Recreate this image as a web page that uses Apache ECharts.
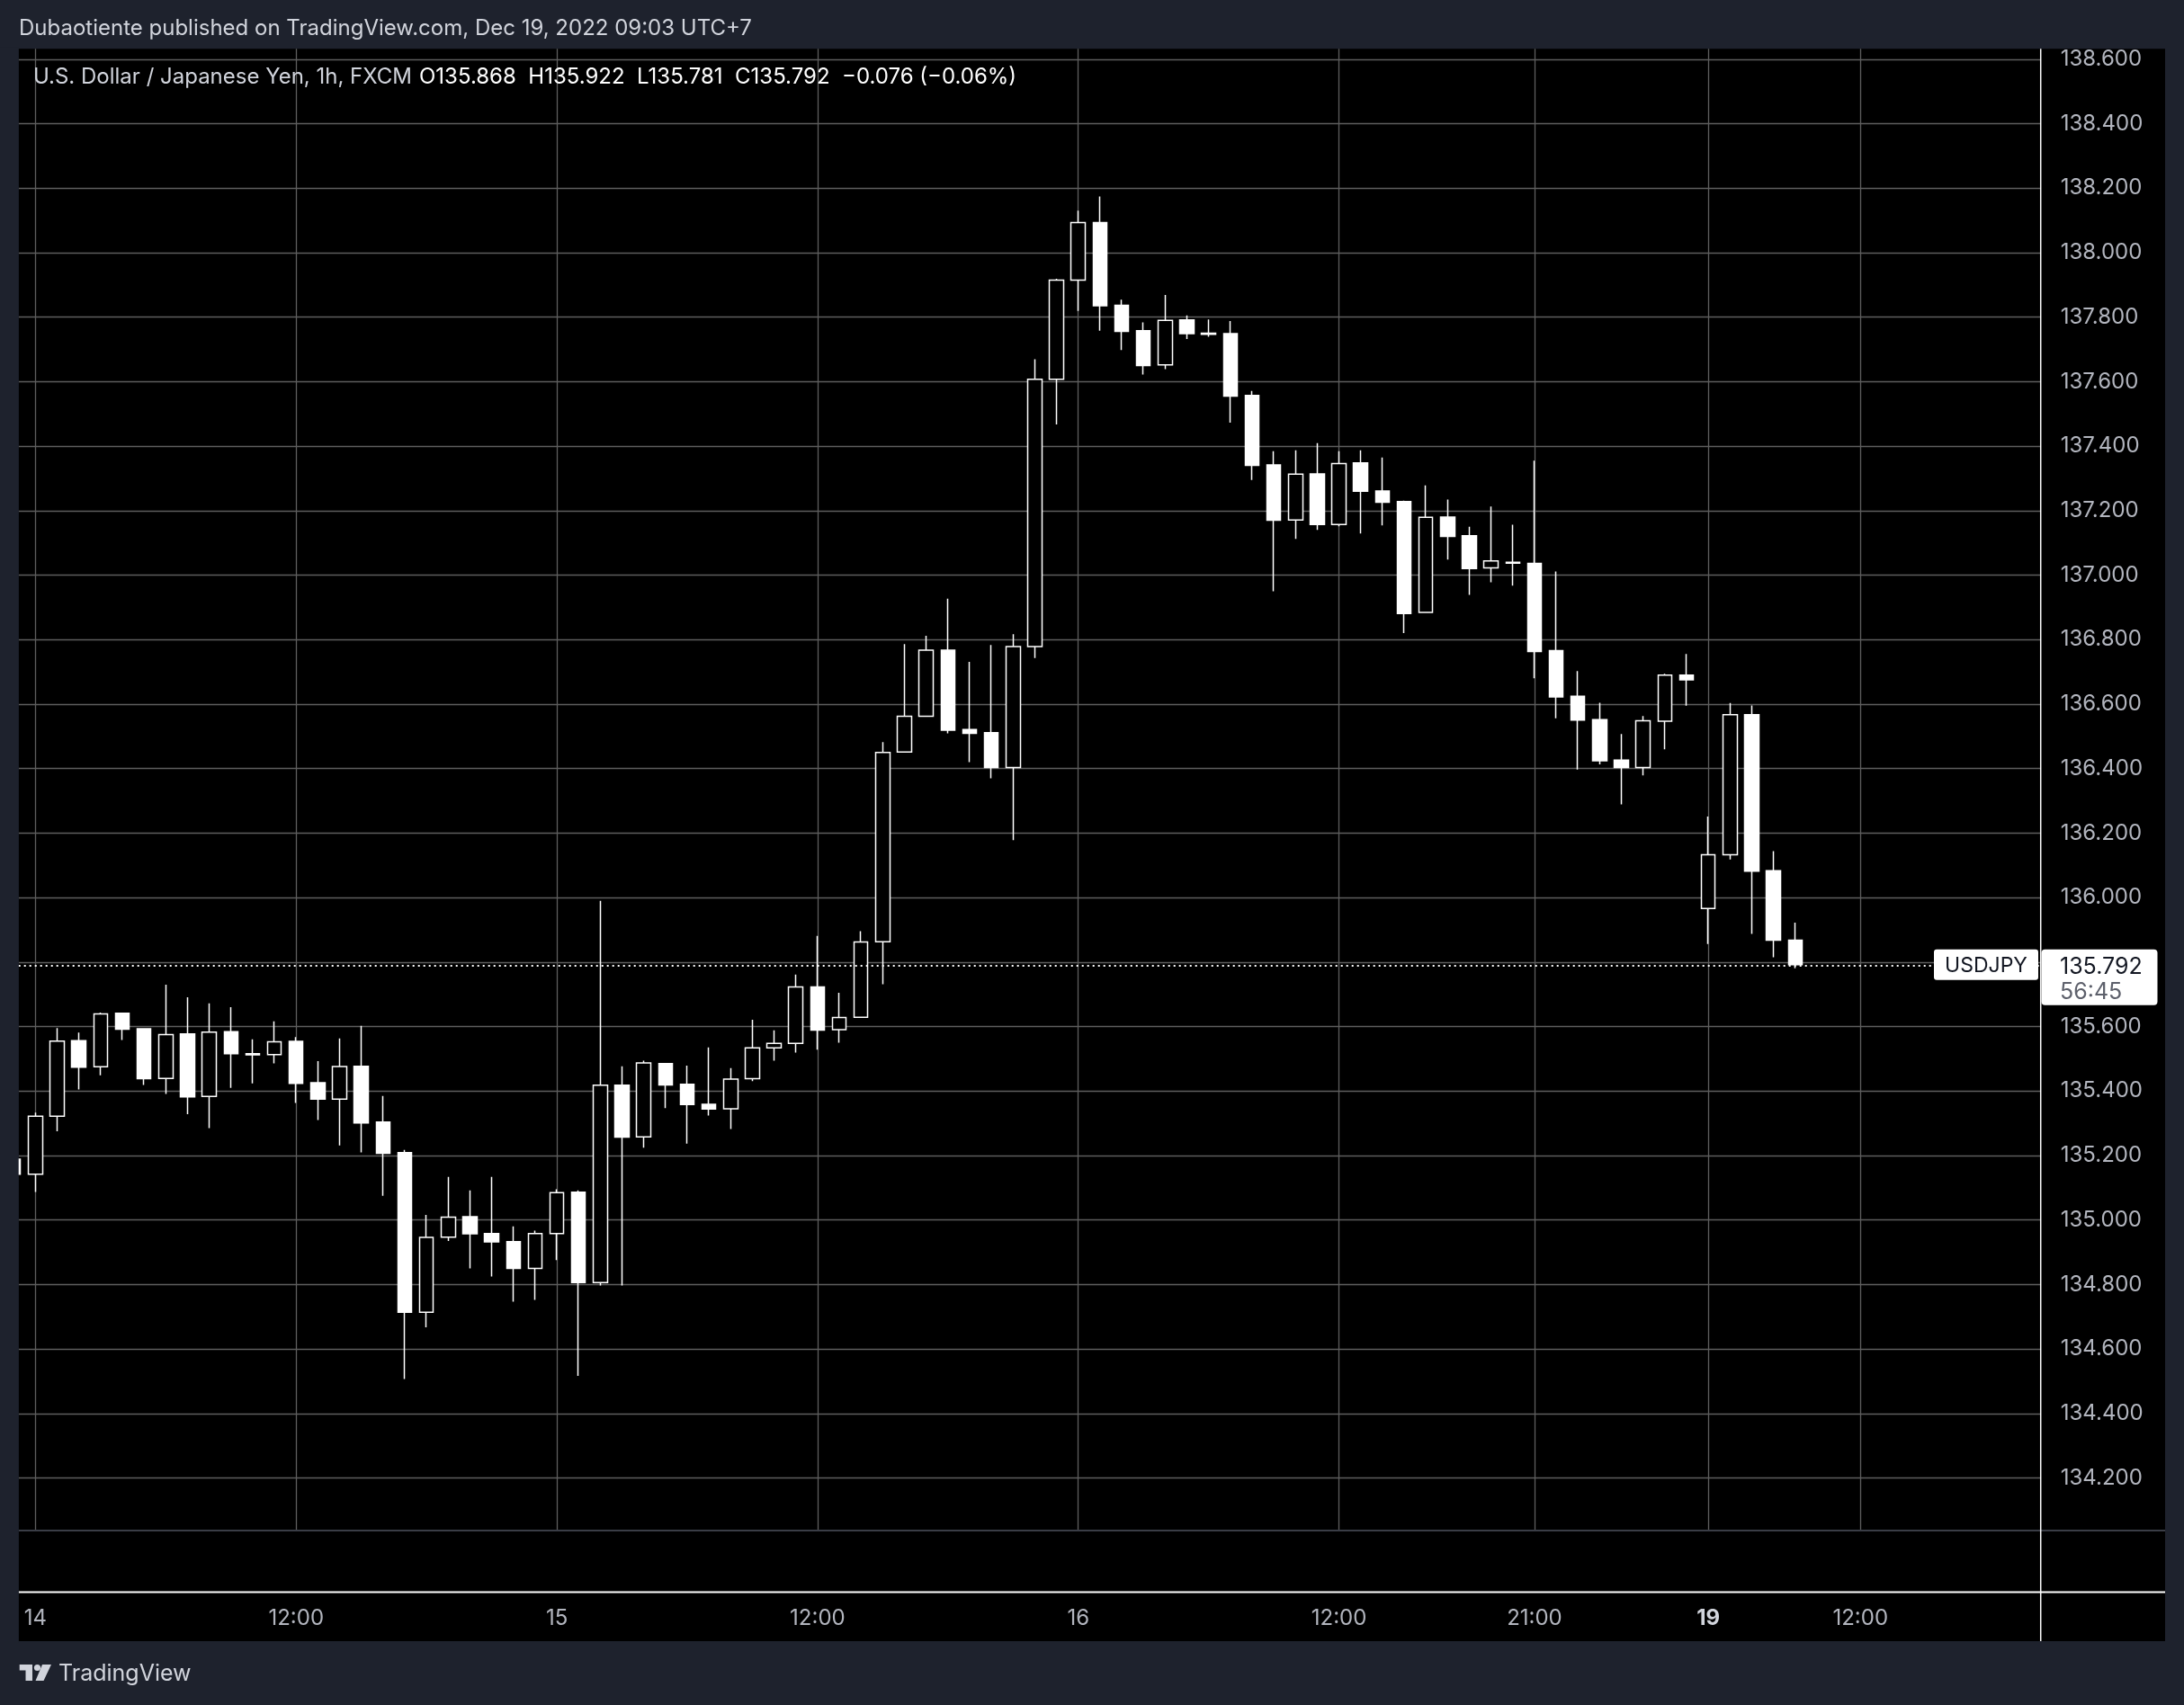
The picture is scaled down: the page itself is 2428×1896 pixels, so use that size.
<!DOCTYPE html>
<html><head><meta charset="utf-8">
<script src="https://cdn.jsdelivr.net/npm/echarts@6/dist/echarts.min.js"></script>
<style>html,body{margin:0;padding:0;background:#1e222d;overflow:hidden}#c{width:2428px;height:1896px}</style>
</head><body><div id="c"></div>
<script>
// ---- data (USDJPY 1h, FXCM) ----
const firstBarIndex = -1; // first visible (partly cut) bar is Dec 13 23:00
const open = [135.189,135.142,135.322,135.556,135.475,135.641,135.593,135.439,135.577,135.383,135.584,135.516,135.513,135.554,135.426,135.375,135.477,135.304,135.209,134.714,134.947,135.010,134.958,134.933,134.850,134.958,135.086,134.806,135.418,135.258,135.485,135.421,135.359,135.345,135.438,135.534,135.548,135.723,135.590,135.629,135.863,136.451,136.562,136.767,136.521,136.511,136.403,136.778,137.607,137.915,138.093,137.837,137.758,137.652,137.791,137.750,137.749,137.557,137.342,137.171,137.314,137.157,137.348,137.261,137.228,136.884,137.180,137.122,137.022,137.040,137.036,136.766,136.624,136.552,136.426,136.403,136.547,136.690,135.966,136.133,136.567,136.083,135.868];
const high = [135.200,135.333,135.595,135.581,135.643,135.643,135.595,135.730,135.691,135.672,135.660,135.560,135.616,135.567,135.493,135.563,135.602,135.385,135.217,135.016,135.134,135.092,135.134,134.980,134.967,135.095,135.092,135.990,135.477,135.494,135.487,135.479,135.535,135.471,135.621,135.588,135.761,135.881,135.705,135.896,136.482,136.786,136.812,136.927,136.731,136.783,136.817,137.669,137.919,138.130,138.174,137.854,137.784,137.869,137.805,137.793,137.788,137.571,137.384,137.387,137.409,137.384,137.387,137.365,137.231,137.278,137.234,137.150,137.213,137.156,137.355,137.011,136.702,136.604,136.507,136.563,136.694,136.755,136.251,136.603,136.596,136.144,135.922];
const low = [135.120,135.087,135.275,135.405,135.449,135.558,135.419,135.391,135.328,135.285,135.410,135.424,135.486,135.363,135.310,135.231,135.210,135.075,134.507,134.667,134.935,134.850,134.825,134.747,134.752,134.876,134.517,134.797,134.797,135.224,135.347,135.237,135.324,135.282,135.431,135.494,135.519,135.528,135.550,135.629,135.731,136.450,136.560,136.509,136.420,136.370,136.178,136.743,137.467,137.819,137.758,137.698,137.622,137.639,137.732,137.739,137.473,137.295,136.950,137.112,137.140,137.151,137.129,137.154,136.820,136.883,137.048,136.939,136.978,136.967,136.680,136.556,136.397,136.413,136.289,136.379,136.460,136.595,135.856,136.118,135.887,135.815,135.781];
const close = [135.142,135.322,135.555,135.474,135.639,135.592,135.438,135.575,135.382,135.583,135.516,135.512,135.553,135.424,135.375,135.476,135.301,135.207,134.714,134.946,135.009,134.957,134.932,134.850,134.958,135.085,134.806,135.418,135.257,135.487,135.419,135.358,135.344,135.437,135.534,135.548,135.723,135.589,135.628,135.862,136.450,136.562,136.767,136.519,136.509,136.403,136.778,137.607,137.915,138.093,137.835,137.756,137.650,137.790,137.749,137.747,137.555,137.340,137.170,137.313,137.157,137.346,137.260,137.226,136.881,137.179,137.120,137.020,137.044,137.037,136.763,136.622,136.550,136.424,136.403,136.548,136.690,136.675,136.133,136.567,136.082,135.868,135.792];
const tickBars = [0,12,24,36,48,60,69,77,84];
const tickLabels = ['14','12:00','15','12:00','16','12:00','21:00','19','12:00'];
const priceTicks = [134.2,134.4,134.6,134.8,135.0,135.2,135.4,135.6,135.8,136.0,136.2,136.4,136.6,136.8,137.0,137.2,137.4,137.6,137.8,138.0,138.2,138.4,138.6];
const lastPrice = 135.792;
const countdown = '56:45';
const symbolName = 'USDJPY';
const headerText = 'Dubaotiente published on TradingView.com, Dec 19, 2022 09:03 UTC+7';
const legendTitle = 'U.S. Dollar / Japanese Yen, 1h, FXCM';
const legendValues = 'O135.868  H135.922  L135.781  C135.792  \u22120.076 (\u22120.06%)';

const candleData = open.map((o, i) => [firstBarIndex + i, o, close[i], low[i], high[i]]);

const FONT = 'Inter, Roboto, "Noto Sans", sans-serif';
const GRID = '#5e5e5e';
const AXIS_TXT = '#b2b5be';
const BG = '#1e222d';
const PANEL = {l: 20.7, t: 54.3, r: 2407, b: 1825};
const PLOT_R = 2268.7, PLOT_B = 1702;

const chart = echarts.init(document.getElementById('c'), null, {renderer: 'canvas'});
chart.setOption({
  backgroundColor: BG,
  animation: false,
  grid: {left: PANEL.l, top: PANEL.t, right: 2428 - PLOT_R, bottom: 1896 - PLOT_B},
  xAxis: {
    type: 'value', min: -0.774, max: 92.3,
    axisLine: {show: false},
    axisTick: {show: false, customValues: tickBars},
    axisLabel: {
      customValues: tickBars, margin: 86, color: AXIS_TXT, fontSize: 24, fontFamily: FONT,
      formatter: v => { const k = tickBars.indexOf(Math.round(v)); const s = k < 0 ? '' : tickLabels[k]; return s === '19' ? '{b|19}' : s; },
      rich: {b: {fontWeight: 'bold', color: '#d1d4dc', fontSize: 24, fontFamily: FONT}}
    },
    splitLine: {show: true, lineStyle: {color: GRID, width: 1.3}}
  },
  yAxis: {
    type: 'value', position: 'right', min: 134.037, max: 138.632,
    axisLine: {show: false},
    axisTick: {show: false, customValues: priceTicks},
    axisLabel: {customValues: priceTicks, formatter: v => v.toFixed(3), align: 'left', margin: 22, color: AXIS_TXT, fontSize: 24, fontFamily: FONT, padding: [4, 0, 0, 0]},
    splitLine: {show: true, lineStyle: {color: GRID, width: 1.3}}
  },
  series: [{
    type: 'candlestick',
    data: candleData,
    barWidth: 16,
    clip: true,
    itemStyle: {color: '#000000', color0: '#ffffff', borderColor: '#ffffff', borderColor0: '#ffffff', borderColorDoji: '#ffffff', borderWidth: 1.5},
    markLine: {
      silent: true, symbol: 'none', label: {show: false},
      lineStyle: {color: '#ffffff', type: [2, 4], width: 2},
      data: [{yAxis: lastPrice}]
    }
  }]
});

const py = chart.convertToPixel({yAxisIndex: 0}, lastPrice);
chart.setOption({
  graphic: [
    {type: 'rect', z: -100, silent: true, shape: {x: PANEL.l, y: PANEL.t, width: PANEL.r - PANEL.l, height: PANEL.b - PANEL.t}, style: {fill: '#000000'}},
    // outer margin mask (hides the part of the first bar left of the panel)
    {type: 'rect', z: 100, silent: true, shape: {x: 0, y: PANEL.t - 2, width: PANEL.l, height: PANEL.b - PANEL.t + 4}, style: {fill: BG}},
    {type: 'line', z: 50, silent: true, shape: {x1: PANEL.l, y1: PLOT_B, x2: PANEL.r, y2: PLOT_B}, style: {stroke: '#3a3d46', lineWidth: 2}},
    {type: 'line', z: 50, silent: true, shape: {x1: PANEL.l, y1: 1770.5, x2: PANEL.r, y2: 1770.5}, style: {stroke: '#ffffff', lineWidth: 2}},
    {type: 'line', z: 50, silent: true, shape: {x1: PLOT_R, y1: PANEL.t, x2: PLOT_R, y2: PANEL.b}, style: {stroke: '#ffffff', lineWidth: 1.5}},
    {type: 'text', z: 50, x: 21, y: 32, style: {text: headerText, fill: '#d1d4dc', font: '24px ' + FONT, verticalAlign: 'middle'}},
    {type: 'text', z: 50, x: 37, y: 86, style: {text: legendTitle, fill: '#d1d4dc', font: '24px ' + FONT, verticalAlign: 'middle'}},
    {type: 'text', z: 50, x: 466, y: 86, style: {text: legendValues, fill: '#ffffff', font: '24px ' + FONT, verticalAlign: 'middle'}},
    // symbol label on price line
    {type: 'rect', z: 60, shape: {x: 2150, y: py - 17, width: 116, height: 34, r: 3}, style: {fill: '#ffffff'}},
    {type: 'text', z: 61, x: 2208, y: py + 1, style: {text: symbolName, fill: '#131722', font: '23px ' + FONT, align: 'center', verticalAlign: 'middle'}},
    // price tag
    {type: 'rect', z: 60, shape: {x: 2269.5, y: py - 17, width: 129, height: 62, r: 4}, style: {fill: '#ffffff'}},
    {type: 'text', z: 61, x: 2290, y: py + 3, style: {text: lastPrice.toFixed(3), fill: '#131722', font: '25px ' + FONT, verticalAlign: 'middle'}},
    {type: 'text', z: 61, x: 2290, y: py + 31, style: {text: countdown, fill: '#5d606b', font: '25px ' + FONT, verticalAlign: 'middle'}},
    // footer logo + text
    {type: 'rect', z: 50, shape: {x: 21.7, y: 1851, width: 14, height: 6.5}, style: {fill: '#d1d4dc'}},
    {type: 'rect', z: 50, shape: {x: 28.5, y: 1851, width: 7.5, height: 18}, style: {fill: '#d1d4dc'}},
    {type: 'circle', z: 50, shape: {cx: 41.5, cy: 1854.5, r: 3.6}, style: {fill: '#d1d4dc'}},
    {type: 'polygon', z: 50, shape: {points: [[47, 1851], [57, 1851], [48.5, 1869], [39.5, 1869]]}, style: {fill: '#d1d4dc'}},
    {type: 'text', z: 50, x: 65, y: 1861, style: {text: 'TradingView', fill: '#d1d4dc', font: '25px ' + FONT, verticalAlign: 'middle'}}
  ]
});
</script></body></html>
